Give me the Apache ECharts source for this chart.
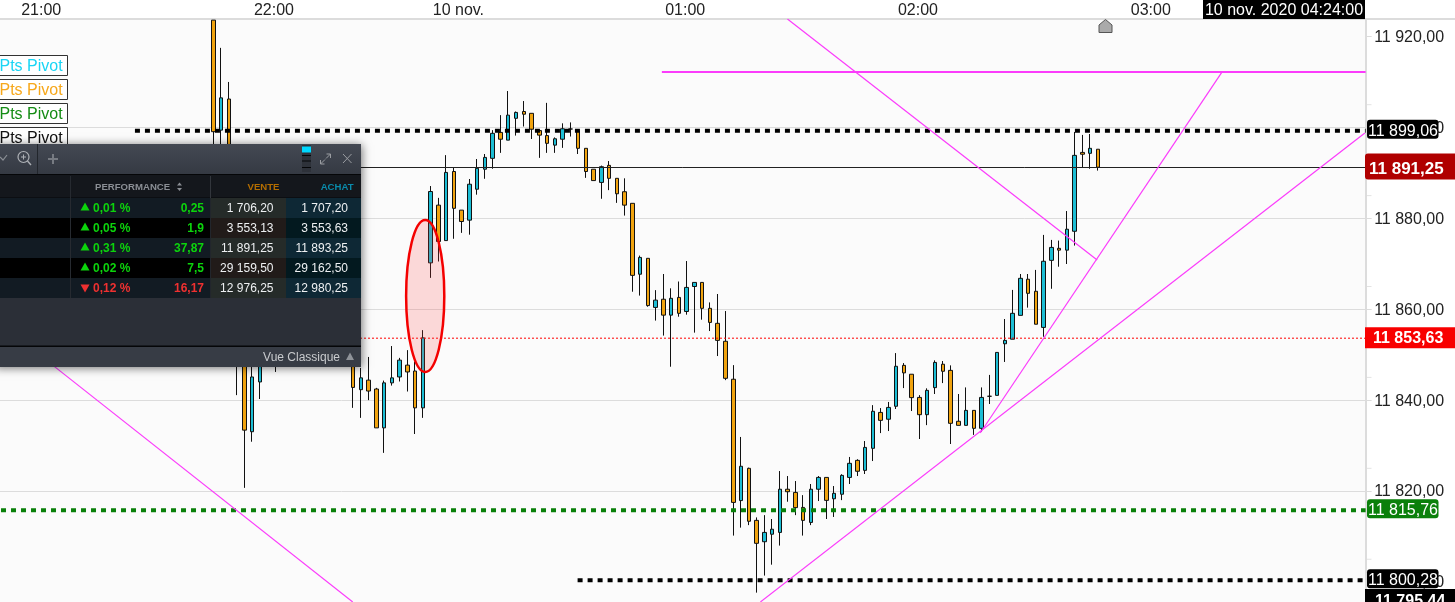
<!DOCTYPE html>
<html><head><meta charset="utf-8">
<style>html,body{margin:0;padding:0;background:#fff;overflow:hidden}#c{width:1455px;height:602px}</style>
<script src="https://cdn.jsdelivr.net/npm/echarts@6/dist/echarts.min.js"></script>
</head><body><div id="c"></div>
<script>
const FONT='"Liberation Sans"';
// ---- time axis
const slotCount=176, firstCandleSlot=27;
const tickLabels=['21:00','22:00','10 nov.','01:00','02:00','03:00'];
const tickSlots=[5,35,58,88,118,148];
// ---- price axis
const priceMin=11795.59, priceMax=11923.85;
const priceTicks=[11800,11820,11840,11860,11880,11900,11920];
const minorTicks=[11805,11825,11845,11865,11885,11905];
// ---- candles, from slot 27 on (null: hidden behind the panel)
const opens=[11923.6,11899.4,11906.25,11873,11862,11833.05,11844,null,11857.6,null,null,null,null,null,null,null,null,null,
11849.9,11842.3,11844.4,11842.45,11833.9,11843.8,11845.1,11847.7,11846.4,11838.3,
11870.2,11882.9,11875.1,11890.3,11881.8,11879.6,11886.4,11890.8,11893.2,11898.9,11897.2,11902,11903.5,11903.1,11899.3,11898.2,11896.1,11897.4,11899.65,11899.2,11895.4,11890.8,
11887.9,11891.65,11888.8,11885.85,11883.3,11867.7,11871.2,11860.4,11862.2,11858.7,11862.6,11859.5,11865,11865.9,11860.2,11856.9,11852.95,11844.6,
11817.9,11825,11813.55,11808.85,11810.5,11810.9,11820.4,11819.7,11816.4,11813.1,11820.4,11823,11818.3,11819.3,11823,11826.75,11824.55,11829.4,11837.3,11835.8,
11838.65,11847.65,11845.7,11840.6,11836.8,11842.75,11847.9,11846.55,11835.35,11834.45,11837.75,11833.8,11840.85,11841.05,11852.4,11853.4,11858.65,11866.6,11863.95,11856,11870.75,11873.4,11873,11877.15,11894.5,11894.3,11895.2];
const closes=[11899.06,11906.5,11884,11853.2,11833.4,11845.1,11853.2,null,11849.9,null,null,null,null,null,null,null,null,null,
11842.8,11844.9,11842,11833.9,11843.8,11844.9,11848.8,11846.2,11838.3,11853.7,
11885.9,11874.9,11890.1,11882.2,11879.3,11887.5,11891,11893.4,11898.7,11897.4,11902.7,11903.3,11902.9,11899.6,11898.3,11896.5,11897.5,11899.7,11899.65,11895.4,11890.3,11888.3,
11891.35,11888.8,11885.4,11882.9,11867.45,11871.4,11860.8,11862,11858.7,11862.4,11859.1,11864.8,11865.9,11860.2,11857.1,11853.15,11844.8,11817.5,
11825.45,11813.35,11808.5,11810.9,11811.6,11820.4,11819.85,11816.35,11813.55,11820.4,11823,11817.95,11819.5,11823.45,11826.1,11824.35,11829.6,11837.55,11835.55,11838.4,
11847.45,11846,11840.55,11836.8,11842.15,11848.3,11846.35,11834.9,11834.45,11837.75,11833.8,11840.6,11840.85,11850.5,11853.15,11859.1,11866.8,11863.5,11856.7,11870.55,11873.6,11873,11877.6,11893.85,11894.1,11895.4,11891.25];
const lows=[11895,11892.8,11879.6,11841.1,11820.7,11830.85,11840.25,null,11846.2,null,null,null,null,null,null,null,null,null,
11838.3,11836.1,11840,11833.9,11828.4,11843.2,11844.1,11841.9,11832.55,11836.1,
11866.9,11870.5,11875.1,11875.5,11876.8,11876.4,11885.2,11888.7,11890.9,11894.4,11897.2,11898.2,11900.2,11897.45,11893.3,11894.4,11894.4,11895.5,11898,11894.15,11888.9,11888.3,
11884.3,11886.2,11883.4,11880.6,11863.85,11863,11860.55,11857.5,11854.2,11847.35,11858.35,11858.8,11854.85,11857.7,11855.2,11849.7,11844.4,11810.2,
11811.95,11812.5,11797.65,11801.4,11803.8,11808,11817.65,11814.7,11810.2,11812.5,11817.8,11813.85,11814.3,11818,11821.55,11823.3,11823.75,11826.6,11832.75,11833.2,
11838.05,11842.65,11837.6,11831.45,11834.5,11841.35,11843.75,11830.35,11834.45,11834.45,11832.35,11833,11839.15,11841.05,11848.4,11853.4,11858.65,11860.35,11856.7,11853.95,11864.5,11869.35,11869.95,11874,11891.2,11890.9,11890.5];
const highs=[11923.6,11917.5,11910,11875.2,11864.2,11848.8,11855.4,null,11862,null,null,null,null,null,null,null,null,null,
11851,11847.1,11849.5,11842.7,11844.3,11851.9,11849.3,11851,11848.5,11855.4,
11887.1,11884.5,11893.9,11891.1,11881.8,11888.65,11893.05,11894.15,11899.4,11902.7,11908,11903.5,11905.8,11903.1,11899.3,11905.4,11897.8,11900.9,11901.1,11899.2,11895.4,11890.8,
11891.6,11892.6,11888.8,11888.8,11883.3,11871.8,11871.2,11864.2,11867.75,11864.6,11866.1,11870.6,11865.9,11865.9,11861.5,11863.35,11859.6,11847.7,
11831.9,11825.15,11814.2,11814.7,11813.85,11824.4,11823.3,11822.2,11819.1,11821.55,11823.3,11823,11821.1,11823.7,11827.5,11827,11831,11838.9,11838.25,11839.6,
11850.35,11848.15,11845.7,11841.1,11842.6,11848.75,11848.6,11847.65,11841.35,11842.8,11837.75,11842.8,11845.55,11850.5,11857.85,11864.25,11867.75,11867.75,11868.65,11876.35,11875.25,11875.1,11881.6,11899,11898.35,11898.55,11895.2];
// ---- price levels
const pivotHigh=11899.28, pivotMid=11815.76, pivotLow=11800.4, bidLevel=11891.18, redLevel=11853.63, lowLevel=11795.44;
const pivotHighFrom=17.39, pivotLowFrom=74.44, pivotMidFrom=0.13;
// ---- trend lines [slot, price] ends
const trendA=[[101.48,11923.85],[141.4,11870.83]];
const trendB=[[2.7,11853.2],[45.46,11795.59]];
const trendFlat=[[85.3,11912.2],[176,11912.2]];
const trendC=[[126.33,11832.77],[157.5,11912.2]];
const trendD=[[98,11795.6],[175.9,11898.77]];
// ---- panel table
const rowDir=[1,1,1,1,-1];
const rowPct=['0,01 %','0,05 %','0,31 %','0,02 %','0,12 %'];
const rowChg=['0,25','1,9','37,87','7,5','16,17'];
const rowSell=['1 706,20','3 553,13','11 891,25','29 159,50','12 976,25'];
const rowBuy=['1 707,20','3 553,63','11 893,25','29 162,50','12 980,25'];
const pivotNames=['Pts Pivot','Pts Pivot','Pts Pivot','Pts Pivot'];
const pivotColors=['#19d5f5','#f7a81b','#148c14','#111111'];

const categories=new Array(slotCount).fill('');
tickSlots.forEach((s,i)=>categories[s]=tickLabels[i]);
const candles=new Array(slotCount).fill(0).map(()=>['-','-','-','-']);
opens.forEach((o,i)=>{ if(o!==null) candles[firstCandleSlot+i]=[o,closes[i],lows[i],highs[i]]; });

function hLine(name,from,val,style){
  return {type:'line',name,xAxisIndex:1,yAxisIndex:0,data:[[from,val],[slotCount,val]],showSymbol:false,symbol:'none',silent:true,lineStyle:style,z:4,clip:true};
}
function tLine(name,data,width){
  return {type:'line',name,xAxisIndex:1,yAxisIndex:0,data,showSymbol:false,symbol:'none',silent:true,lineStyle:{color:'#fb3cfb',width:width},z:5,clip:true};
}
const fmt=v=>{const s=v.toFixed(2).replace('.',',');return s.slice(0,2)+' '+s.slice(2);};

const chart=echarts.init(document.getElementById('c'),null,{renderer:'canvas',width:1455,height:602});
chart.setOption({
  animation:false,backgroundColor:'#ffffff',
  grid:{left:-1,top:19,width:slotCount*7.765,height:583,show:true,backgroundColor:'#fbfbfb',borderWidth:0,containLabel:false},
  xAxis:[
   {type:'category',position:'top',data:categories,boundaryGap:true,
    axisLine:{show:true,onZero:false,lineStyle:{color:'#dcdcdc',width:2}},axisTick:{show:false},splitLine:{show:false},
    axisLabel:{interval:0,hideOverlap:false,color:'#222',fontFamily:FONT,fontSize:16,margin:0,padding:[0,3,0,0],
      formatter:v=>v==='10 nov.'?'{n|'+v+'}':v,
      rich:{n:{color:'#222',fontFamily:FONT,fontSize:16,padding:[0,0,0,12]}}}},
   {type:'value',min:0,max:slotCount,show:false,splitLine:{show:false}}
  ],
  yAxis:[{type:'value',position:'right',min:priceMin,max:priceMax,scale:true,
    axisLine:{show:true,onZero:false,lineStyle:{color:'#dcdcdc',width:2}},
    axisTick:{show:true,length:6,customValues:priceTicks,lineStyle:{color:'#dcdcdc'}},
    splitLine:{show:true,lineStyle:{color:'#dcdcdc',width:1},showMinLine:false,showMaxLine:false},
    axisLabel:{customValues:priceTicks,color:'#222',fontFamily:FONT,fontSize:16,margin:8.5,verticalAlign:'top',lineHeight:2,formatter:fmt}}],
  series:[
   {type:'candlestick',name:'candles',xAxisIndex:0,yAxisIndex:0,data:candles,barWidth:4,z:3,clip:true,silent:true,
    itemStyle:{color:'#1cbdd4',color0:'#f0a30f',borderColor:'#111',borderColor0:'#111',borderWidth:1}},
   hLine('pivotHigh',pivotHighFrom,pivotHigh,{color:'#000',width:4,type:[5,5]}),
   hLine('pivotLow',pivotLowFrom,pivotLow,{color:'#000',width:4,type:[5,5]}),
   hLine('pivotMid',pivotMidFrom,pivotMid,{color:'#0a800a',width:4,type:[5,5]}),
   hLine('bid',0,bidLevel,{color:'#222',width:1}),
   hLine('red',0,redLevel,{color:'#f00',width:1,type:[2,2]}),
   tLine('a',trendA,1.2),tLine('b',trendB,1.2),tLine('flat',trendFlat,2),tLine('c',trendC,1.2),tLine('d',trendD,1.2),
   {type:'scatter',name:'minor',xAxisIndex:1,yAxisIndex:0,clip:false,silent:true,symbol:'rect',symbolSize:[5,1],
    data:minorTicks.map(v=>[176.43,v]),itemStyle:{color:'#dcdcdc'},z:2}
  ]
});

const py=v=>chart.convertToPixel({yAxisIndex:0},v);
const pp=(u,v)=>chart.convertToPixel({xAxisIndex:1,yAxisIndex:0},[u,v]);
const G=[];
let Z=100;
const rect=(x,y,w,h,fill,extra)=>G.push(Object.assign({type:'rect',silent:true,z:Z,shape:Object.assign({x,y,width:w,height:h},extra&&extra.r?{r:extra.r}:{}),style:Object.assign({fill},extra&&extra.style||{})}));
const text=(x,y,t,fill,font,align)=>G.push({type:'text',silent:true,z:Z,style:{x,y:y+(font.indexOf('9.6')>=0?0:1),text:t,fill,font:font+' '+FONT,textAlign:align||'left',textVerticalAlign:'middle'}});
const line=(x1,y1,x2,y2,c,w)=>G.push({type:'line',silent:true,z:Z,shape:{x1,y1,x2,y2},style:{stroke:c,lineWidth:w||1}});
const poly=(pts,fill,stroke)=>G.push({type:'polygon',silent:true,z:Z,shape:{points:pts},style:{fill,stroke:stroke||null,lineWidth:1}});

// ellipse annotation
{const c=pp(54.8,11862.9), e=pp(54.8+2.46,11862.9+16.72);
 G.push({type:'ellipse',silent:true,z:50,shape:{cx:c[0],cy:c[1],rx:e[0]-c[0],ry:c[1]-e[1]},style:{fill:'rgba(255,60,60,0.18)',stroke:'#f40000',lineWidth:2.5}});}
// axis strip top line + timestamp + marker
Z=60;
rect(1365,18,90,2,'#dcdcdc');
rect(1203,0,162,19,'#000');
text(1284,9.5,'10 nov. 2020 04:24:00','#fff','16px','center');
poly([[1099,32.5],[1099,25],[1105.5,19.5],[1112,25],[1112,32.5]],'#aaaaaa','#555');
// pivot boxes
pivotNames.forEach((n,i)=>{
  const y=55+i*24;
  G.push({type:'rect',silent:true,z:Z,shape:{x:-2,y:y+.5,width:69.5,height:20},style:{fill:'#fff',stroke:'#333',lineWidth:1}});
  text(-0.5,y+11,n,pivotColors[i],'16px');
});
// price flags
Z=70;
function flag(val,label,bg,kind){
  const y=py(val);
  if(kind==='small'){
    rect(1367,y-11,71.5,19,bg,{r:3});
    text(1368,y-.5,label,'#fff','16px');
  }else if(kind==='tall'){
    rect(1365,y-14,90,26,bg,{r:[3,0,0,3]});
    text(1369,y+.5,label,'#fff','bold 17px');
  }else{
    rect(1365,y-11,90,21,bg);
    text(1373,y-.5,label,'#fff','bold 16px');
  }
}
flag(pivotHigh,'11 899,06','#000','small');
flag(bidLevel,'11 891,25','#b00000','tall');
flag(redLevel,'11 853,63','#f80000','flat');
flag(pivotMid,'11 815,76','#0a800a','small');
flag(pivotLow,'11 800,28','#000','small');
rect(1365,589,90,20,'#000');
text(1375,601,'11 795,44','#fff','bold 16px');
// panel
Z=200;
G.push({type:'rect',silent:true,z:Z,shape:{x:-6,y:144,width:367,height:223},style:{fill:'#2b2f37',shadowBlur:9,shadowColor:'rgba(0,0,0,0.55)',shadowOffsetY:1,shadowOffsetX:1}});
Z=201;
G.push({type:'rect',silent:true,z:Z,shape:{x:0,y:144,width:361,height:30},style:{fill:new echarts.graphic.LinearGradient(0,0,0,1,[{offset:0,color:'#444953'},{offset:1,color:'#353a43'}])}});
rect(0,174,361,1.5,'#050608');
rect(0,175,361,23,'#14171c');
rect(0,197.5,361,1,'#050608');
line(37.5,144,37.5,174,'#22262c',1);
line(70.5,176,70.5,297,'#262a30',1);
line(210.5,176,210.5,198,'#32363c',1);
// header icons
G.push({type:'polyline',silent:true,z:Z,shape:{points:[[0,157],[3,160],[7,155]]},style:{stroke:'#8b8f95',fill:null,lineWidth:1.2}});
G.push({type:'circle',silent:true,z:Z,shape:{cx:23.5,cy:157,r:5.5},style:{stroke:'#aeb1b6',fill:null,lineWidth:1.2}});
line(27.5,161,31,165,'#aeb1b6',1.4);line(21,157,26,157,'#aeb1b6',1);line(23.5,154.5,23.5,159.5,'#aeb1b6',1);
line(48,159,58,159,'#777b82',2);line(53,154,53,164,'#777b82',2);
rect(302,145,9,27,'#2e323a');
rect(302,146.5,9,6,'#00d8ff');
rect(302,155,9,1,'#050608');rect(302,160.5,9,1,'#050608');rect(302,167,9,1,'#050608');
line(320.5,164,325,159.5,'#9a9da2',1);line(326,158.5,330.5,154,'#9a9da2',1);
G.push({type:'polyline',silent:true,z:Z,shape:{points:[[326.5,154],[330.5,154],[330.5,158]]},style:{stroke:'#9a9da2',fill:null,lineWidth:1}});
G.push({type:'polyline',silent:true,z:Z,shape:{points:[[320.5,160],[320.5,164],[324.5,164]]},style:{stroke:'#9a9da2',fill:null,lineWidth:1}});
line(343,154,351.5,163,'#9a9da2',1);line(351.5,154,343,163,'#9a9da2',1);
// column titles
text(95,187,'PERFORMANCE','#8a8e94','bold 9.6px');
poly([[179.5,182.5],[182,185.5],[177,185.5]],'#8a8e94');poly([[179.5,191],[182,188],[177,188]],'#8a8e94');
text(279.5,187,'VENTE','#b36d00','bold 9.6px','right');
text(353.5,187,'ACHAT','#0a8bab','bold 9.6px','right');
// rows
rowPct.forEach((p,i)=>{
  const y=198+i*20, alt=i%2===1, up=rowDir[i]>0, c=up?'#0cd40c':'#ef3030', m=y+10;
  rect(0,y,211,20,alt?'#000':'#121b23');
  rect(211,y,75,20,alt?'#211b19':'#252b29');
  rect(286,y,75,20,alt?'#03191f':'#0e2835');
  if(up) poly([[85,m-5.5],[89.5,m+2.5],[80.5,m+2.5]],c); else poly([[85,m+4.5],[89.5,m-3.5],[80.5,m-3.5]],c);
  text(93,m,p,c,'bold 12px');
  text(204,m,rowChg[i],c,'bold 12px','right');
  text(273.5,m,rowSell[i],'#eef0f2','12px','right');
  text(348,m,rowBuy[i],'#eef0f2','12px','right');
});
line(70.5,198,70.5,298,'#262a30',1);line(210.5,198,210.5,298,'#22262c',1);
// footer
rect(0,347,361,20,'#373c45');
rect(0,345.5,361,1.5,'#050608');
text(340,356.5,'Vue Classique','#c8cacd','12px','right');
poly([[350,352.5],[354,360],[346,360]],'#8f9399');
chart.setOption({graphic:{elements:G}});
</script></body></html>
